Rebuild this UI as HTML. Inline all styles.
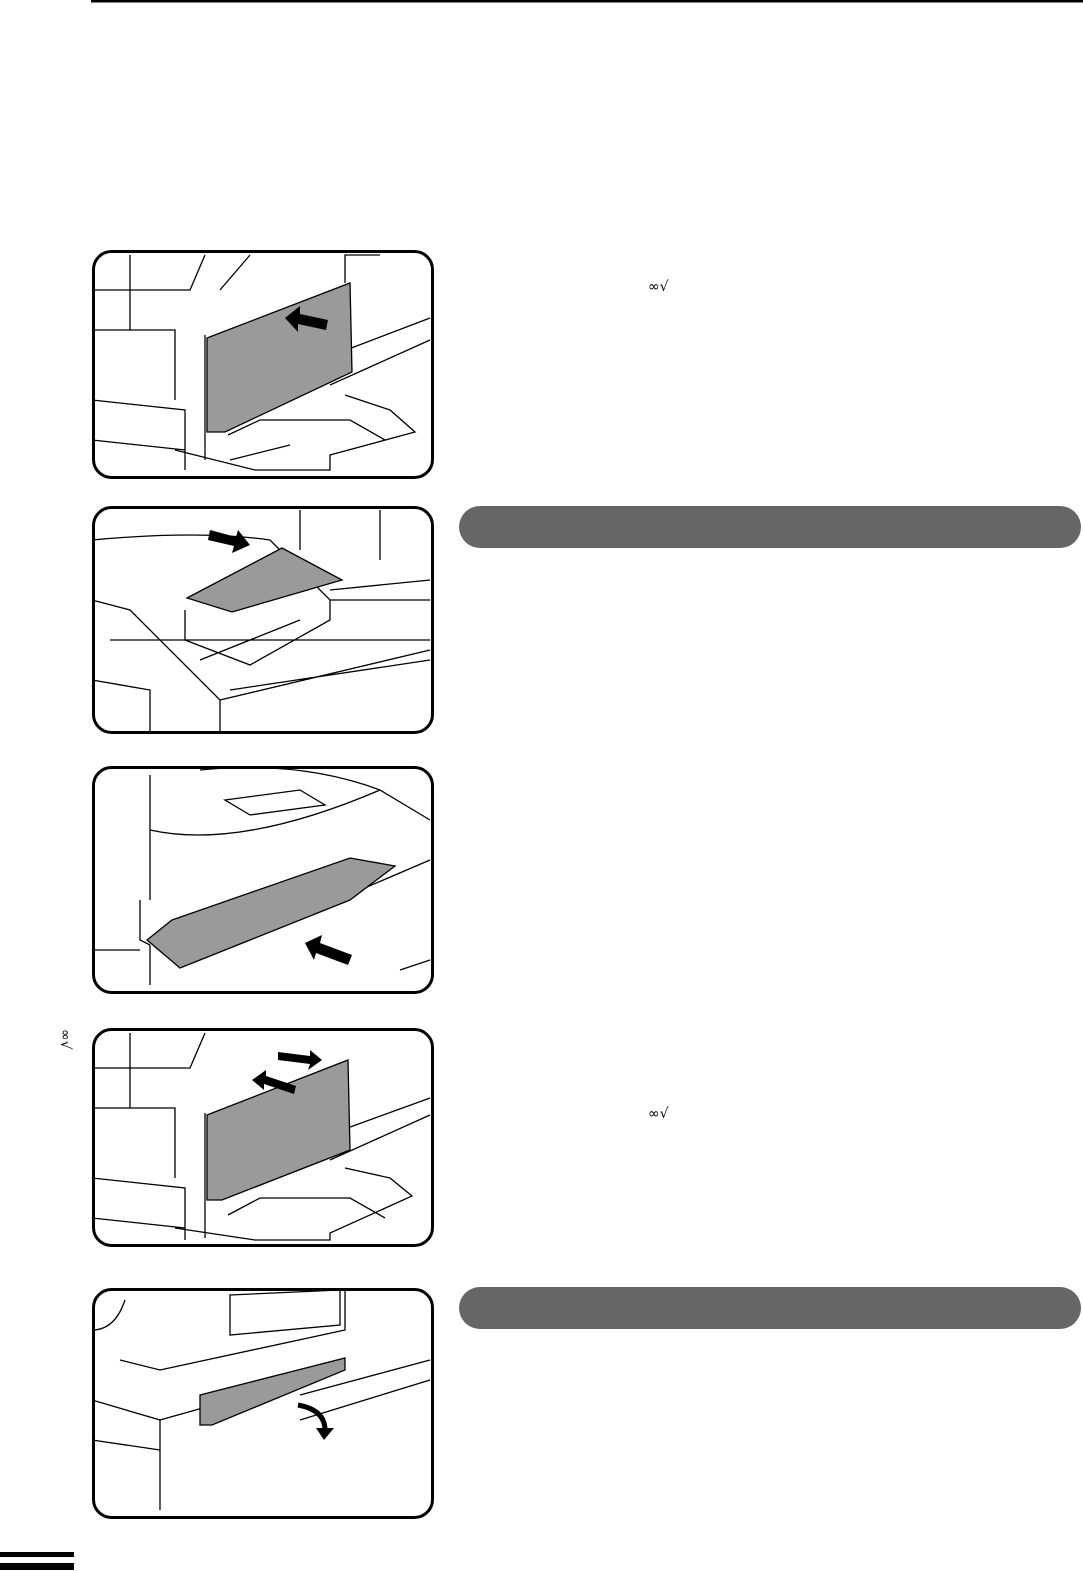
<!DOCTYPE html>
<html><head><meta charset="utf-8"><style>
html,body{margin:0;padding:0;background:#fff}
body{width:1083px;height:1571px;position:relative;overflow:hidden;font-family:"Liberation Sans",sans-serif}
</style></head><body>
<svg width="1083" height="1571" style="position:absolute;left:0;top:0" xmlns="http://www.w3.org/2000/svg">
<rect x="91" y="0" width="992" height="2.5" fill="#000"/>
<rect x="0" y="1552" width="74" height="5" fill="#000"/>
<rect x="0" y="1563" width="74" height="7" fill="#000"/>
<g fill="#666">
<rect x="459" y="506" width="622" height="42" rx="21"/>
<rect x="459" y="1287" width="622" height="42" rx="21"/>
</g>
<g fill="none" stroke="#000" stroke-width="1.3">
<path d="M92 290 L190 290 L205 255 M130 255 L130 330 L175 330 M92 400 L185 410 L185 470 M92 440 L185 450 M205 335 L205 460 M92 330 L175 330 L175 400 M175 450 L255 470 L330 470 L330 455 L415 432 L390 410 L345 395"/>
<path d="M430 318 L320 360 M430 340 L330 385"/>
<path d="M380 255 L345 255 L345 283 M220 290 L250 255"/>
<path d="M228 435 L260 420 L350 420 L385 440 M230 460 L290 445"/>
<path d="M92 540 Q200 530 270 540 L330 600 L430 600 M185 610 L185 640 L250 665 L330 620 L330 600 M92 600 L130 610 L220 700 L220 733 M220 700 L430 650 M230 690 L430 660 M110 640 L430 640 M200 660 L300 620 M92 680 L150 690 L150 733 M300 510 L300 550 M380 510 L380 560 M430 580 L330 590"/>
<path d="M150 775 L150 830 Q240 850 380 790 M150 830 L150 900 M200 770 Q300 760 380 790 M225 800 L300 790 L325 805 L250 815 Z M380 790 L430 820 M140 900 L140 940 L150 945 M150 945 L150 985 M92 950 L140 950 M360 890 L430 860 M230 930 L300 900 M400 970 L430 960"/>
<path d="M92 1068 L190 1068 L205 1033 M130 1033 L130 1108 L175 1108 M92 1178 L185 1188 L185 1240 M92 1218 L185 1228 M205 1113 L205 1238 M92 1108 L175 1108 L175 1178 M175 1228 L255 1240 L330 1240 L330 1233 L412 1196 L390 1178 L345 1168"/>
<path d="M430 1098 L320 1138 M430 1115 L330 1160"/>
<path d="M228 1215 L260 1198 L350 1198 L385 1218"/>
<path d="M92 1330 Q115 1330 125 1300 M120 1360 L160 1370 L345 1330 L345 1290 M92 1400 L160 1420 L160 1510 M160 1420 L345 1368 M92 1440 L160 1450 M230 1295 L340 1290 L340 1325 L230 1335 Z M430 1360 L300 1395 M430 1380 L300 1420"/>
</g>
<g fill="#9a9a9a" stroke="#000" stroke-width="1.3">
<path d="M207 338 L350 283 L352 372 L225 432 L207 432 Z"/>
<path d="M187 598 L282 548 L342 580 L232 612 Z"/>
<path d="M172 920 L350 858 L395 866 L350 900 L180 968 L147 940 Z"/>
<path d="M207 1115 L348 1060 L350 1150 L222 1200 L207 1200 Z"/>
<path d="M200 1395 L345 1358 L345 1370 L212 1425 L200 1425 Z"/>
</g>
<g fill="#000">
<path d="M285 318 L300 306 L300 314 L328 320 L326 330 L298 324 L298 332 Z"/>
<path d="M250 545 L238 530 L236 537 L210 530 L208 540 L234 546 L232 553 Z"/>
<path d="M305 943 L322 935 L320 943 L352 955 L348 965 L316 953 L314 960 Z"/>
<path d="M252 1080 L266 1070 L266 1076 L296 1086 L294 1094 L264 1084 L264 1090 Z"/>
<path d="M322 1060 L310 1050 L310 1056 L278 1052 L278 1060 L310 1064 L308 1070 Z"/>
</g>
<path d="M298 1405 Q325 1410 325 1430" fill="none" stroke="#000" stroke-width="5"/>
<path d="M316 1428 L334 1428 L324 1440 Z" fill="#000"/>
<g fill="none" stroke="#000" stroke-width="3">
<rect x="93.5" y="251.5" width="339" height="226" rx="18"/>
<rect x="93.5" y="507.5" width="339" height="225" rx="18"/>
<rect x="93.5" y="767.5" width="339" height="225" rx="18"/>
<rect x="93.5" y="1029.5" width="339" height="216" rx="18"/>
<rect x="93.5" y="1289.5" width="339" height="228" rx="18"/>
</g>
<text x="648" y="291" font-size="14" font-family="DejaVu Sans">&#8734;&#8730;</text>
<text x="648" y="1118" font-size="14" font-family="DejaVu Sans">&#8734;&#8730;</text>
<text x="60" y="1040" font-size="14" font-family="DejaVu Sans" transform="rotate(90 66 1035)">&#8734;&#8730;</text>
</svg>
</body></html>
